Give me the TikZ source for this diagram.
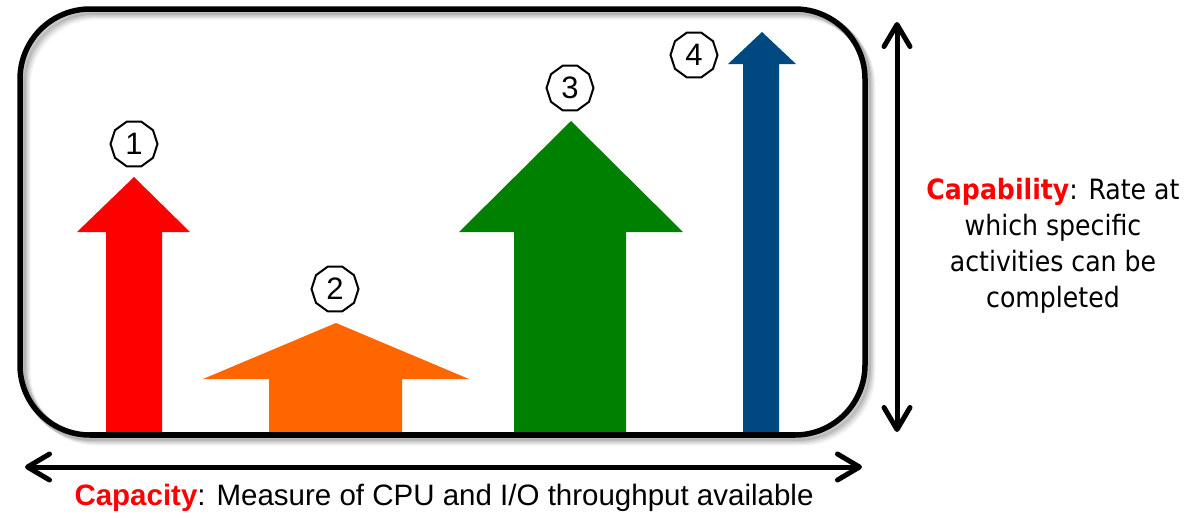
\documentclass[tikz,border=0pt]{standalone}
\usepackage{fontspec}
\setmainfont{Liberation Sans}
\newfontfamily\tahomalike{DejaVu Sans Condensed}
\usetikzlibrary{arrows.meta,shapes.geometric}
\definecolor{cred}{RGB}{255,0,0}
\definecolor{corange}{RGB}{255,102,0}
\definecolor{cgreen}{RGB}{0,128,0}
\definecolor{cblue}{RGB}{0,72,128}
\tikzset{
  frame/.style={line width=5.5pt, rounded corners=70pt},
  badge/.style={regular polygon, regular polygon sides=10, draw, line width=2pt,
    minimum size=47pt, inner sep=0pt, font=\fontsize{31}{31}\selectfont},
  dbl/.style={line width=5pt,
    {Straight Barb[length=22pt,width=26pt,round]}-{Straight Barb[length=22pt,width=26pt,round]}},
}
\begin{document}
\begin{tikzpicture}[x=1pt,y=-1pt]
\useasboundingbox (0,0) rectangle (1188,517);
% frame shadow
\foreach \o/\op in {7/0.05,5.5/0.07,4/0.09,2.5/0.11}{
  \draw[frame, black, opacity=\op, line width=7pt] (20+\o,9+\o) rectangle (865+\o,435+\o);
}
\draw[frame, black] (20,9) rectangle (865,435);
% arrows
\fill[cred] (106,435) -- (106,232) -- (77,232) -- (134,177) -- (190,232) -- (162,232) -- (162,435) -- cycle;
\fill[corange] (269,435) -- (269,379) -- (203,379) -- (336,323) -- (469,379) -- (402,379) -- (402,435) -- cycle;
\fill[cgreen] (514,435) -- (514,232) -- (459,232) -- (571,121) -- (683,232) -- (626,232) -- (626,435) -- cycle;
\fill[cblue] (743,435) -- (743,64) -- (728,64) -- (762,32) -- (796,64) -- (779,64) -- (779,435) -- cycle;
% redraw bottom border over arrows
\draw[line width=5.5pt] (90,435) -- (795,435);
% badges
\node[badge] (b1) at (134,144) {1};
\node[badge] (b2) at (335,289) {2};
\node[badge] (b3) at (570,88) {3};
\node[badge] (b4) at (694,55) {4};
% double arrows
\coordinate (vt) at (897,22);
\coordinate (vb) at (897,432);
\coordinate (hl) at (25,467);
\coordinate (hr) at (862,467);
\draw[dbl] (vt) -- (vb);
\draw[dbl] (hl) -- (hr);
% texts
\node[align=center, font=\tahomalike\fontsize{28}{36}\selectfont, anchor=base] (cap) at (1053,307)
  {{\bfseries\color{cred}Capability}: Rate at\\ which specific\\ activities can be\\ completed};
\node[anchor=base, font=\fontsize{29.5}{30}\selectfont] (cty) at (444,505)
  {{\bfseries\color{cred}Capacity}: Measure of CPU and I/O throughput available};
\end{tikzpicture}
\end{document}
